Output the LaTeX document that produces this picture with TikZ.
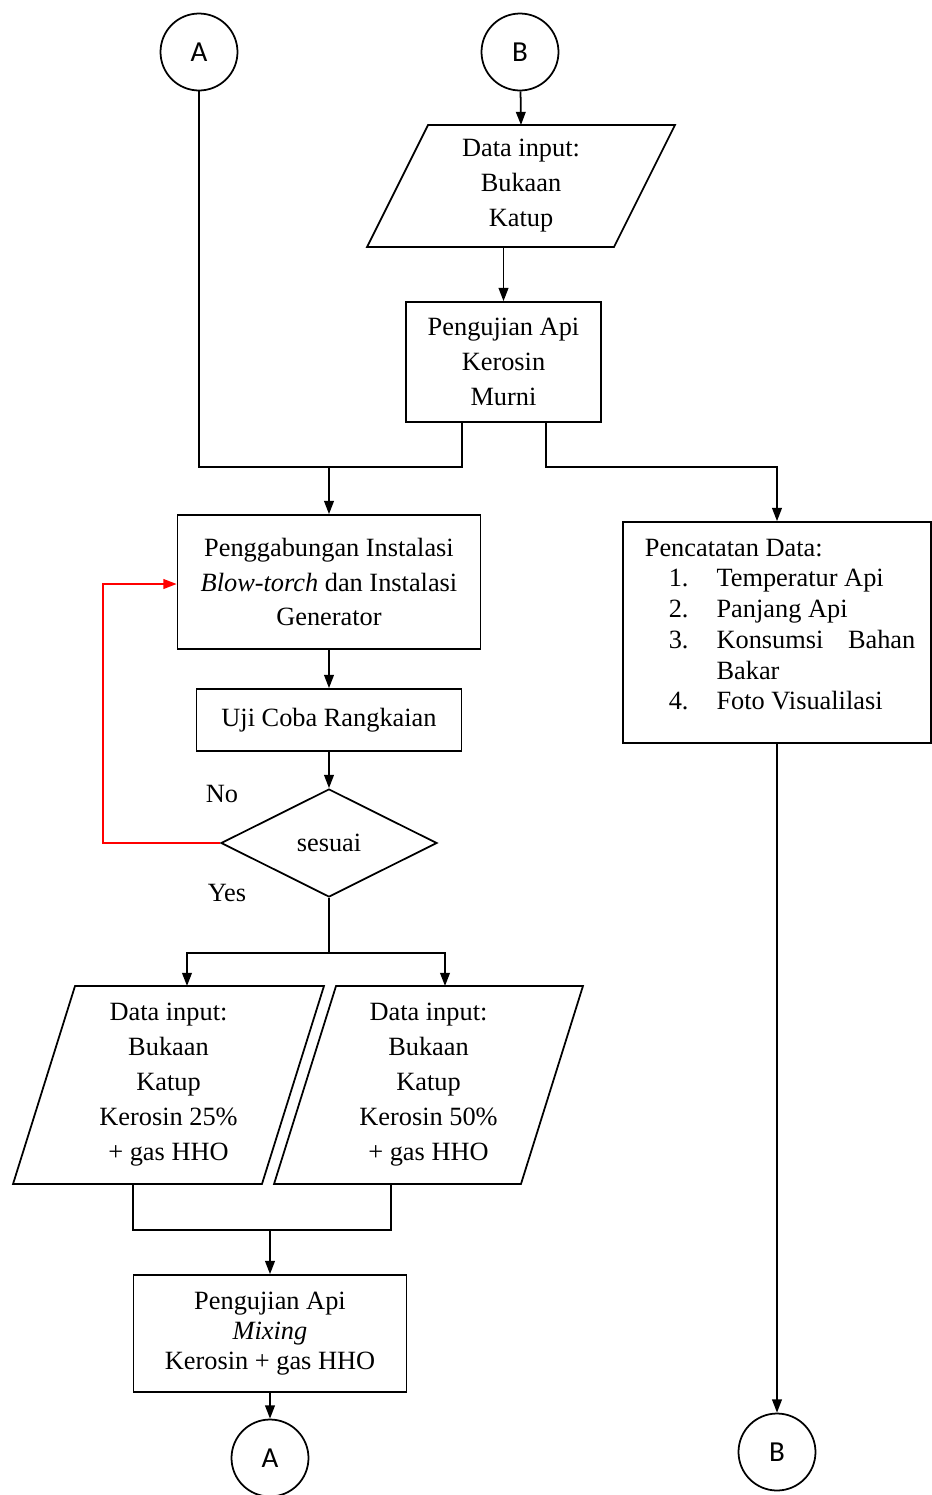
\documentclass[tikz,border=0pt]{standalone}
\usepackage{fontspec}
\setmainfont{Liberation Serif}
\newfontfamily\connfont{Carlito}
\usetikzlibrary{shapes.geometric,arrows.meta}

\newcommand{\ioshape}[2]{\draw ([xshift=#2]#1.north west) -- (#1.north east) -- ([xshift=-#2]#1.south east) -- (#1.south west) -- cycle;}

\begin{document}
\begin{tikzpicture}[x=0.02cm,y=-0.02cm,line width=1pt,
	font=\fontsize{15}{19.9}\selectfont,
	box/.style={draw, rectangle, align=center, inner sep=0pt},
	io/.style={rectangle, align=center, inner sep=0pt, outer sep=0pt},
	conn/.style={draw, circle, minimum size=1.54cm, inner sep=0pt, font=\connfont\fontsize{16.5}{16.5}\selectfont},
	arrow/.style={-{Triangle[length=7.5pt,width=5.5pt]}}]
	\useasboundingbox (0,0) rectangle (932,1495);

		\node[conn] (topA) at (199,52) {A};
		\node[conn] (topB) at (520,52) {B};
		\node[io, minimum width=6.16cm, minimum height=2.44cm] (inKatup) at (521,186) {Data input:\\Bukaan\\Katup};
		\ioshape{inKatup}{1.22cm}
		\node[box, minimum width=3.9cm, minimum height=2.4cm] (ujiMurni) at (503.5,362) {Pengujian Api\\Kerosin\\Murni};
		\node[box, minimum width=6.06cm, minimum height=2.68cm] (gabung) at (329,582) {Penggabungan Instalasi\\\textit{Blow-torch} dan Instalasi\\Generator};
		\node[box, minimum width=5.3cm, minimum height=1.24cm] (ujiCoba) at (329,720) {Uji Coba Rangkaian};
		\node[draw, diamond, minimum width=4.32cm, minimum height=2.16cm, inner sep=0pt] (sesuai) at (329,843) {sesuai};
		\node (no) at (222,794) {No};
		\node (yes) at (227,893) {Yes};

		\node[box, minimum width=6.16cm, minimum height=4.42cm] (catat) at (777,632.5) {};
		\node[anchor=north west, align=left, inner sep=0pt, font=\fontsize{15}{17.5}\selectfont] (catatTeks) at (644,538) {Pencatatan Data:\\
			\hspace*{13.6pt}\makebox[27.2pt][l]{1.}Temperatur Api\\
			\hspace*{13.6pt}\makebox[27.2pt][l]{2.}Panjang Api\\
			\hspace*{13.6pt}\makebox[27.2pt][l]{3.}Konsumsi\hspace{14pt}Bahan\\
			\hspace*{40.8pt}Bakar\\
			\hspace*{13.6pt}\makebox[27.2pt][l]{4.}Foto Visualilasi};
		\node[conn] (botB) at (777,1452) {B};

		\node[io, minimum width=6.22cm, minimum height=3.96cm] (in25) at (168.5,1085) {Data input:\\Bukaan\\Katup\\Kerosin 25\%\\+ gas HHO};
		\ioshape{in25}{1.24cm}
		\node[io, minimum width=6.18cm, minimum height=3.96cm] (in50) at (428.5,1085) {Data input:\\Bukaan\\Katup\\Kerosin 50\%\\+ gas HHO};
		\ioshape{in50}{1.24cm}
		\node[box, minimum width=5.46cm, minimum height=2.34cm, font=\fontsize{15}{17}\selectfont] (ujiMix) at (270,1333.5) {Pengujian Api\\\textit{Mixing}\\Kerosin + gas HHO};
		\node[conn] (botA) at (270,1458) {A};

		\coordinate (mergeA) at (462,467);
		\coordinate (splitC) at (546,467);
		\coordinate (loopL) at (103,584);
		\coordinate (splitY) at (329,953);
		\coordinate (joinMix) at (270,1230);

		\draw[arrow] (topB) -- (inKatup.north);
		\draw[arrow] (inKatup.south -| ujiMurni) -- (ujiMurni.north);
		\draw (topA.south) |- (mergeA) -- (mergeA |- ujiMurni.south);
		\draw[arrow] (mergeA -| gabung) -- (gabung.north);
		\draw[arrow] (splitC |- ujiMurni.south) -- (splitC) -| (catat.north);
		\draw[arrow] (catat.south) -- (botB.north);
		\draw[arrow] (gabung.south) -- (ujiCoba.north);
		\draw[arrow] (ujiCoba.south) -- (sesuai.north);
		\draw[arrow, red] (sesuai.west) -| (loopL) -- (loopL -| gabung.west);
		\draw (sesuai.south) -- (splitY);
		\draw[arrow] (splitY) -| ([xshift=0.37cm]in25.north);
		\draw[arrow] (splitY) -| ([xshift=0.33cm]in50.north);
		\draw ([xshift=-0.71cm]in25.south) |- (joinMix) -| ([xshift=-0.75cm]in50.south);
		\draw[arrow] (joinMix) -- (ujiMix.north);
		\draw[arrow] (ujiMix.south) -- (botA.north);
\end{tikzpicture}
\end{document}
